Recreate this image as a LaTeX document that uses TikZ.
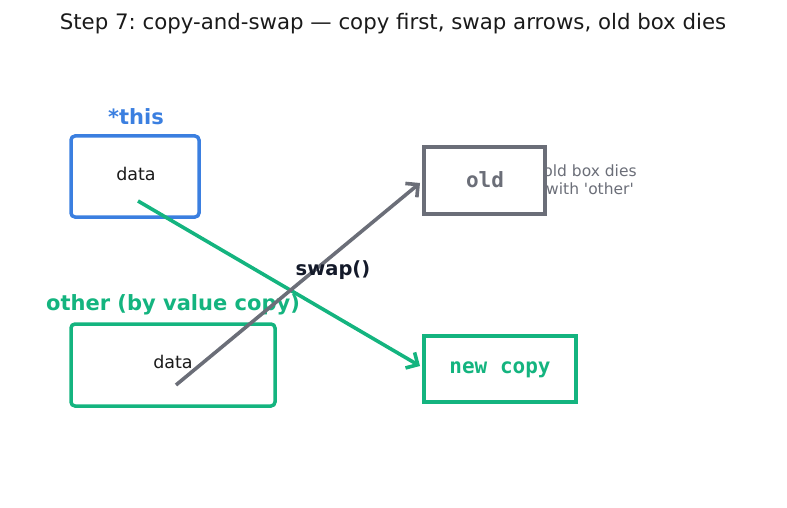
\documentclass[tikz,border=0pt]{standalone}
\usepackage{fontspec}
\setmainfont{DejaVu Sans}
\setmonofont{DejaVu Sans Mono}
\usetikzlibrary{arrows.meta}
\definecolor{cblue}{HTML}{3B7FE0}
\definecolor{cgreen}{HTML}{14B47F}
\definecolor{cgray}{HTML}{6B6E78}
\definecolor{cdark}{HTML}{141A2A}
\definecolor{ctext}{HTML}{1A1A1A}
\tikzset{
  box/.style={draw, line width=3.5pt, inner sep=0pt},
  rbox/.style={box, rounded corners=4pt},
  lbl/.style={font=\fontsize{21}{25}\selectfont\bfseries},
  datatxt/.style={font=\fontsize{17.5}{21}\selectfont, text=ctext},
  monotxt/.style={font=\fontsize{21}{25}\selectfont\ttfamily\bfseries},
  conn/.style={line width=3.6pt, -{Straight Barb[length=9pt,width=18pt]}},
}
\begin{document}
\frenchspacing
\begin{tikzpicture}[x=1pt,y=-1pt]
\useasboundingbox (0,0) rectangle (787,508);
\node[font=\fontsize{21.3}{25}\selectfont, text=ctext] (title) at (393,24) {Step 7: copy-and-swap — copy first, swap arrows, old box dies};
% this
\node[lbl, text=cblue] (thislbl) at (136,117) {*this};
\node[rbox, draw=cblue, minimum width=128pt, minimum height=81pt] (this) at (135,176.5) {};
\node[datatxt] (thisdata) at (136,174) {data};
% other
\node[lbl, text=cgreen] (otherlbl) at (173,305) {other (by value copy)};
\node[rbox, draw=cgreen, minimum width=204pt, minimum height=82pt] (other) at (173,365) {};
\node[datatxt] (otherdata) at (173,362) {data};
% old
\node[box, draw=cgray, minimum width=121pt, minimum height=67pt] (old) at (484.5,180.5) {};
\node[monotxt, text=cgray] (oldtxt) at (485,180) {old};
\node[font=\fontsize{15.5}{18}\selectfont, text=cgray, align=center] (dies) at (590,179.5) {old box dies\\with \textquotesingle other\textquotesingle};
% new copy
\node[box, draw=cgreen, minimum width=152pt, minimum height=66pt] (new) at (500,369) {};
\node[monotxt, text=cgreen] (newtxt) at (500,370) {new copy};
% arrows
\coordinate (gs) at (138,201);
\coordinate (ge) at (420,366);
\coordinate (ks) at (176,385);
\coordinate (ke) at (420,183);
\draw[conn, cgreen] (gs) -- (ge);
\draw[conn, cgray] (ks) -- (ke);
\node[font=\fontsize{19.5}{23}\selectfont\bfseries, text=cdark] (swap) at (333,270.5) {swap()};
\end{tikzpicture}
\end{document}
